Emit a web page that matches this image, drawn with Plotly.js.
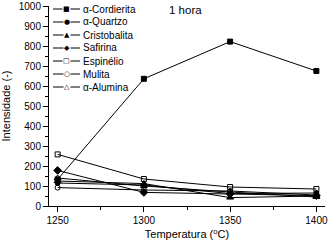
<!DOCTYPE html>
<html>
<head>
<meta charset="utf-8">
<script src="https://cdn.plot.ly/plotly-3.0.1.min.js"></script>
<style>html,body{margin:0;padding:0;background:#fff;}#chart{width:331px;height:248px;}</style>
</head>
<body>
<div id="chart"></div>
<script>
var temperatures = [1250, 1300, 1350, 1400];
var seriesNames = ["\u03b1-Cordierita", "\u03b1-Quartzo", "Cristobalita", "Safirina", "Espin\u00e9lio", "Mulita", "\u03b1-Alumina"];
var cordierita = [133, 636, 822, 675];
var quartzo = [115, 105, 62, 65];
var cristobalita = [125, 112, 42, 50];
var safirina = [178, 68, 60, 52];
var espinelio = [258, 135, 95, 85];
var mulita = [92, 80, 75, 55];
var alumina = [140, 100, 70, 45];
var xTickValues = [1250, 1300, 1350, 1400];
var yTickValues = [0, 100, 200, 300, 400, 500, 600, 700, 800, 900, 1000];

var seriesValues = [cordierita, quartzo, cristobalita, safirina, espinelio, mulita, alumina];
var symbols = ["square", "circle", "triangle-up", "diamond", "square-open", "circle-open", "triangle-up-open"];
var legendGlyphs = ["\u25a0", "\u25cf", "\u25b2", "\u25c6", "\u25a1", "\u25cb", "\u25b3"];
var sizes = [5, 5, 6, 6, 5, 5, 6];

var traces = seriesValues.map(function (vals, i) {
  return {
    x: temperatures,
    y: vals,
    name: seriesNames[i],
    type: "scatter",
    mode: "lines+markers",
    showlegend: false,
    line: {color: "#000", width: 1},
    marker: {symbol: symbols[i], size: sizes[i], color: "#000", line: {color: "#000", width: 1}}
  };
});

var font = "Liberation Sans, Arial, sans-serif";

// plot area in pixels (for placing the hand-made legend)
var plotL = 49, plotR = 325, plotT = 6, plotB = 206;
function px2x(p) { return (p - plotL) / (plotR - plotL); }
function px2y(p) { return (plotB - p) / (plotB - plotT); }

var legendRow0 = 9, legendStep = 13, sampleL = 53, sampleR = 80, labelX = 82;
var shapes = [], annotations = [];
seriesNames.forEach(function (name, i) {
  var py = legendRow0 + i * legendStep;
  shapes.push({type: "line", xref: "paper", yref: "paper",
    x0: px2x(sampleL), x1: px2x(sampleR), y0: px2y(py), y1: px2y(py),
    line: {color: "#000", width: 1}});
  annotations.push({text: legendGlyphs[i], xref: "paper", yref: "paper",
    x: px2x((sampleL + sampleR) / 2), y: px2y(py), xanchor: "center", yanchor: "middle",
    showarrow: false, bgcolor: "#fff", borderpad: 0,
    font: {family: "DejaVu Sans", size: 7, color: "#000"}});
  annotations.push({text: name, xref: "paper", yref: "paper",
    x: px2x(labelX), y: px2y(py), xanchor: "left", yanchor: "middle",
    showarrow: false, borderpad: 0,
    font: {family: font, size: 10, color: "#000"}});
});
annotations.push({
  text: "1 hora", xref: "paper", yref: "paper", x: px2x(185.5), y: px2y(10), xanchor: "center", yanchor: "middle",
  showarrow: false, font: {family: font, size: 11.5, color: "#000"}
});

var layout = {
  width: 331, height: 248,
  margin: {l: plotL, r: 331 - plotR, t: plotT, b: 248 - plotB},
  paper_bgcolor: "#fff", plot_bgcolor: "#fff",
  font: {family: font, size: 10, color: "#000"},
  showlegend: false,
  xaxis: {
    range: [1245, 1405], tickvals: xTickValues, ticks: "outside", ticklen: 5, tickwidth: 1, tickcolor: "#000",
    showline: true, linecolor: "#000", linewidth: 1, showgrid: false, zeroline: false,
    minor: {dtick: 25, ticks: "outside", ticklen: 3, tickcolor: "#000", showgrid: false},
    tickfont: {family: font, size: 10, color: "#000"},
    title: {text: "Temperatura (<sup>o</sup>C)", font: {family: font, size: 11, color: "#000"}, standoff: 5}
  },
  yaxis: {
    range: [0, 1000], tickvals: yTickValues, ticks: "outside", ticklen: 5, tickwidth: 1, tickcolor: "#000",
    showline: true, linecolor: "#000", linewidth: 1, showgrid: false, zeroline: false,
    minor: {dtick: 50, ticks: "outside", ticklen: 3, tickcolor: "#000", showgrid: false},
    tickfont: {family: font, size: 10, color: "#000"},
    title: {text: "Intensidade (-)", font: {family: font, size: 11, color: "#000"}, standoff: 5}
  },
  shapes: shapes,
  annotations: annotations
};

Plotly.newPlot("chart", traces, layout, {displayModeBar: false, staticPlot: true});
</script>
</body>
</html>
